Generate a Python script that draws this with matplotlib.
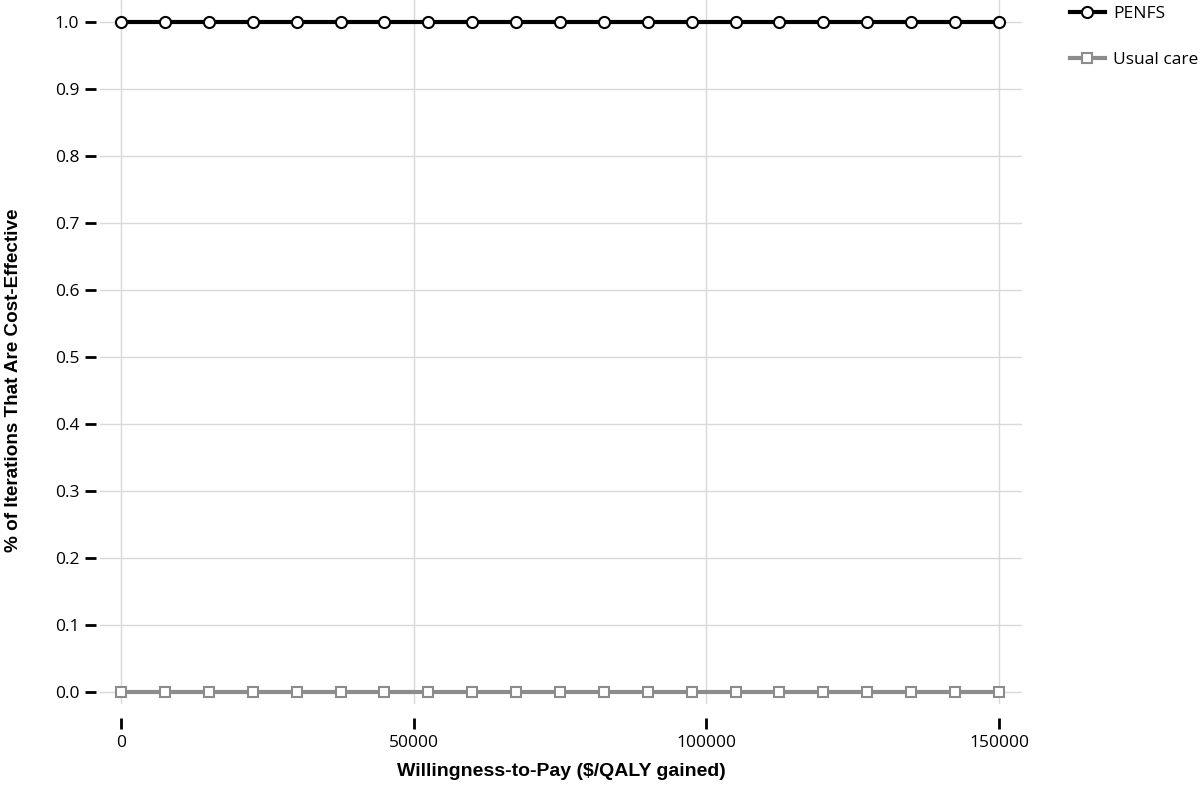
import numpy as np
import matplotlib.pyplot as plt

# willingness-to-pay thresholds ($/QALY)
wtp = [0, 7500, 15000, 22500, 30000, 37500, 45000, 52500, 60000, 67500, 75000,
       82500, 90000, 97500, 105000, 112500, 120000, 127500, 135000, 142500, 150000]
penfs = [1.0] * 21
usual_care = [0.0] * 21

plt.rcParams['font.family'] = ['Open Sans', 'DejaVu Sans']

fig = plt.figure(figsize=(12, 7.85), dpi=100)
ax = fig.add_axes([100 / 1200, 1 - 704 / 785, 922 / 1200, 704 / 785])

ax.plot(wtp, penfs, color='black', lw=3, marker='o', markersize=8,
        markerfacecolor='white', markeredgecolor='black', markeredgewidth=1.5,
        label='PENFS', zorder=3)
ax.plot(wtp, usual_care, color='#8c8c8c', lw=3, marker='s', markersize=7,
        markerfacecolor='white', markeredgecolor='#8c8c8c', markeredgewidth=1.5,
        label='Usual care', zorder=3)

# px mapping: x=0 -> 121, 150000 -> 999 ; y=1 -> 22, y=0 -> 692
xs = 150000 / (999 - 121)
ax.set_xlim(-(121 - 100) * xs, 150000 + (1022 - 999) * xs)
ys = 1 / (692 - 22)
ax.set_ylim(-(704 - 692) * ys, 1 + 22 * ys)

ax.set_xticks([0, 50000, 100000, 150000])
ax.set_yticks(np.arange(0, 1.01, 0.1))
ax.set_yticklabels([f'{v:.1f}' for v in np.arange(0, 1.01, 0.1)])
ax.grid(True, color='#d9d9d9', lw=1)
ax.set_axisbelow(True)

for s in ['top', 'right']:
    ax.spines[s].set_visible(False)
ax.spines['left'].set_position(('outward', 3))
ax.spines['bottom'].set_position(('outward', 10))
ax.spines['left'].set_visible(False)
ax.spines['bottom'].set_visible(False)
ax.tick_params(axis='both', width=2, labelsize=12.5, color='black')
ax.tick_params(axis='y', length=8, pad=4)
ax.tick_params(axis='x', length=8, pad=4)

ax.set_xlabel('Willingness-to-Pay ($/QALY gained)', fontsize=14,
              fontweight='bold', family='Liberation Sans', labelpad=9)
ax.set_ylabel('% of Iterations That Are Cost-Effective', fontsize=13.6,
              fontweight='bold', family='Liberation Sans')
ax.yaxis.set_label_coords(-0.085, 0.46)

ax.legend(loc='upper left', bbox_to_anchor=(1.035, 1.014), frameon=False,
          fontsize=12.5, handlelength=2.0, handletextpad=0.5, labelspacing=1.7)

fig.savefig('out.png', dpi=100)
